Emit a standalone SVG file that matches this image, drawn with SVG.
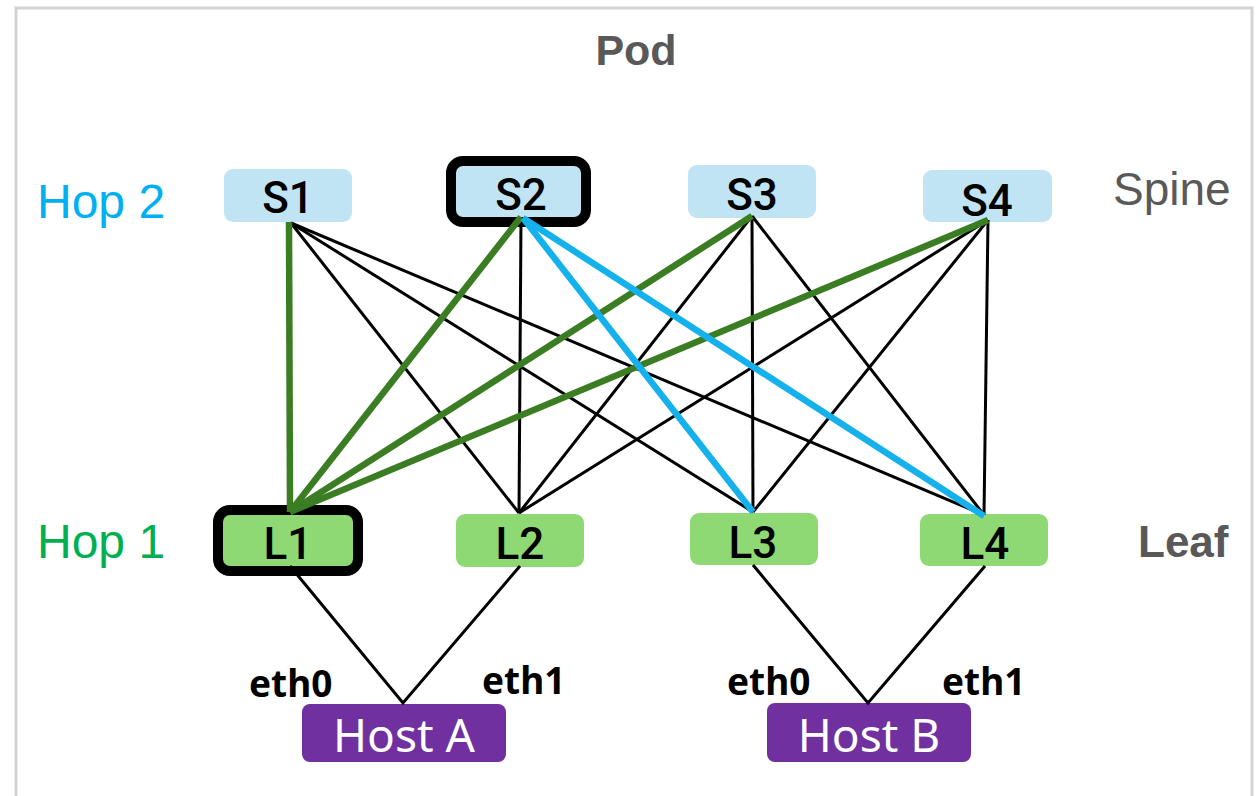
<svg xmlns="http://www.w3.org/2000/svg" width="1258" height="796" viewBox="0 0 1258 796">
  <style>
    .frame { fill: #ffffff; stroke: #d4d4d4; stroke-width: 3; }
    .spine { fill: #c1e4f5; }
    .leaf { fill: #8fd974; }
    .host { fill: #7030a0; }
    .sel { stroke: #000000; stroke-width: 10; }
    .nlabel { font-family: Roboto, "Noto Sans", "Liberation Sans", sans-serif; font-size: 44px; font-weight: 500; fill: #000000; text-anchor: middle; }
    .hlabel { font-family: "Noto Sans", "Liberation Sans", sans-serif; font-size: 46px; fill: #ffffff; text-anchor: middle; }
    .eth { font-family: "Noto Sans", "Liberation Sans", sans-serif; font-size: 37px; font-weight: bold; fill: #000000; }
    .tier { font-family: "Liberation Sans", Arial, sans-serif; fill: #595959; }
    .hop { font-family: "Liberation Sans", Arial, sans-serif; font-size: 48px; }
    .thin { stroke: #000000; stroke-width: 3; fill: none; }
    .green { stroke: #3b7d23; stroke-width: 6.5; fill: none; }
    .blue { stroke: #14b1ec; stroke-width: 6.5; fill: none; }
  </style>

  <!-- pod frame -->
  <rect class="frame" x="16" y="8" width="1236" height="800"/>
  <text class="tier" x="636" y="65" font-size="43" font-weight="bold" text-anchor="middle">Pod</text>
  <text class="tier" x="1113" y="205" font-size="46" font-family="Roboto, 'Liberation Sans', sans-serif" font-weight="500">Spine</text>
  <text class="tier" x="1138" y="557" font-size="44" font-weight="bold">Leaf</text>
  <text class="hop" x="37" y="218" fill="#00b0f0">Hop 2</text>
  <text class="hop" x="37" y="558" fill="#00b050">Hop 1</text>

  <!-- spine switches -->
  <g id="S1">
    <rect class="spine" x="224" y="169" width="128" height="53" rx="9"/>
    <text class="nlabel" x="288" y="213">S1</text>
  </g>
  <g id="S2">
    <rect class="spine sel" x="451" y="161" width="135" height="61" rx="12"/>
    <text class="nlabel" x="521" y="210">S2</text>
  </g>
  <g id="S3">
    <rect class="spine" x="688" y="165" width="128" height="53" rx="9"/>
    <text class="nlabel" x="752" y="210">S3</text>
  </g>
  <g id="S4">
    <rect class="spine" x="923" y="170" width="129" height="52" rx="9"/>
    <text class="nlabel" x="987" y="216">S4</text>
  </g>

  <!-- leaf switches -->
  <g id="L1">
    <rect class="leaf sel" x="218" y="510" width="140" height="61" rx="12" stroke-width="11"/>
    <text class="nlabel" x="288" y="559">L1</text>
  </g>
  <g id="L2">
    <rect class="leaf" x="456" y="514" width="128" height="53" rx="9"/>
    <text class="nlabel" x="520" y="559">L2</text>
  </g>
  <g id="L3">
    <rect class="leaf" x="690" y="513" width="128" height="52" rx="9"/>
    <text class="nlabel" x="753" y="558">L3</text>
  </g>
  <g id="L4">
    <rect class="leaf" x="920" y="514" width="128" height="52" rx="9"/>
    <text class="nlabel" x="985" y="559">L4</text>
  </g>

  <!-- hosts -->
  <g id="HostA">
    <rect class="host" x="302" y="704" width="204" height="58" rx="8"/>
    <text class="hlabel" x="404" y="752">Host A</text>
  </g>
  <g id="HostB">
    <rect class="host" x="767" y="703" width="204" height="59" rx="8"/>
    <text class="hlabel" x="869" y="752">Host B</text>
  </g>

  <!-- links -->
  <g id="connectors">
    <!-- fabric links -->
    <line class="thin" x1="291" y1="223" x2="519" y2="513"/>
    <line class="thin" x1="291" y1="223" x2="753" y2="512"/>
    <line class="thin" x1="291" y1="223" x2="984" y2="515"/>
    <line class="thin" x1="521" y1="218" x2="519" y2="513"/>
    <line class="thin" x1="752" y1="216" x2="519" y2="513"/>
    <line class="thin" x1="752" y1="216" x2="753" y2="512"/>
    <line class="thin" x1="752" y1="216" x2="984" y2="515"/>
    <line class="thin" x1="988" y1="220" x2="519" y2="513"/>
    <line class="thin" x1="988" y1="220" x2="753" y2="512"/>
    <line class="thin" x1="988" y1="220" x2="984" y2="515"/>

    <!-- first hop paths -->
    <line class="green" x1="289" y1="222" x2="290" y2="512"/>
    <line class="green" x1="521" y1="217" x2="290" y2="512"/>
    <line class="green" x1="752" y1="216" x2="290" y2="512"/>
    <line class="green" x1="988" y1="220" x2="290" y2="512"/>

    <!-- second hop paths -->
    <line class="blue" x1="523" y1="218" x2="753" y2="512"/>
    <line class="blue" x1="523" y1="218" x2="984" y2="516"/>

    <!-- host uplinks -->
    <polyline class="thin" points="290,566 403,703 520,566"/>
    <polyline class="thin" points="753,565 868,703 985,566"/>
  </g>

  <text class="eth" x="249" y="697">eth0</text>
  <text class="eth" x="482" y="694">eth1</text>
  <text class="eth" x="727" y="695">eth0</text>
  <text class="eth" x="942" y="695">eth1</text>
</svg>
